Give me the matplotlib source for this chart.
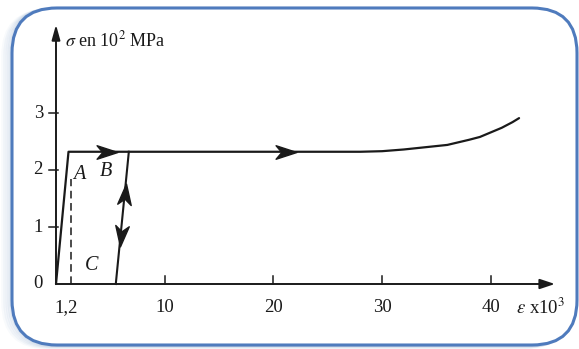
import matplotlib
matplotlib.use("Agg")
import matplotlib.pyplot as plt
import numpy as np
from matplotlib.patches import FancyBboxPatch
from matplotlib.markers import MarkerStyle
from matplotlib.path import Path
from matplotlib.transforms import Affine2D

# stress-strain curve (strain x1e3, stress in 1e2 MPa)
eps = [0, 1.15, 28, 30, 32, 34, 36, 38, 39, 40, 41, 42, 42.6]
sig = [0, 2.32, 2.32, 2.33, 2.36, 2.40, 2.44, 2.53, 2.58, 2.66, 2.74, 2.84, 2.91]

# unloading line B -> C
unload_eps = [6.7, 5.5]
unload_sig = [2.32, 0]

# dashed line at A
dash_eps = [1.4, 1.4]
dash_sig = [0, 1.85]

xticks = [10, 20, 30, 40]
yticks = [1, 2, 3]
arrow_eps = [4.7, 21.2]
double_arrow_sig = [1.58, 0.84]

W, H = 579, 349
fig = plt.figure(figsize=(W / 100, H / 100), dpi=100)

# background frame in pixel coordinates
fr = fig.add_axes([0, 0, 1, 1], zorder=0)
fr.set_xlim(0, W)
fr.set_ylim(H, 0)
fr.axis("off")
for i, a in enumerate([0.05, 0.07, 0.09, 0.12, 0.16]):
    off = 9 - i * 2
    sh = FancyBboxPatch((12 - off, 8 + off * 0.3), 565, 337, boxstyle="round,pad=0,rounding_size=45",
                        fc="none", ec="#7f9fc8", lw=2.5, alpha=a)
    fr.add_patch(sh)
box = FancyBboxPatch((12, 8), 565, 337, boxstyle="round,pad=0,rounding_size=45",
                     fc="white", ec="#4f7bbd", lw=2.2)
fr.add_patch(box)

ax = fig.add_axes([0, 0, 1, 1], zorder=1)
ax.patch.set_alpha(0)
ax.set_xlim(-56 / 10.87, (W - 56) / 10.87)
ax.set_ylim(-(H - 284) / 57, 284 / 57)
ax.axis("off")

serif = "Liberation Serif"
k = "#1a1a1a"

# axes with arrows
ax.annotate("", xy=(45.9, 0), xytext=(0, 0),
            arrowprops=dict(arrowstyle="-|>,head_length=0.9,head_width=0.3", color=k, lw=1.4, shrinkA=0, shrinkB=0))
ax.annotate("", xy=(0, 4.55), xytext=(0, 0),
            arrowprops=dict(arrowstyle="-|>,head_length=0.9,head_width=0.25", color=k, lw=1.4, shrinkA=0, shrinkB=0))

for t in xticks:
    ax.plot([t, t], [0, 0.14], color=k, lw=1.1)
    ax.text(t, -0.42, str(t), ha="center", va="center", fontsize=13.5, family=serif, color=k)
for t in yticks:
    ax.plot([-0.6, 0.2], [t, t], color=k, lw=1.1)
    ax.text(-1.2, t, str(t), ha="right", va="center", fontsize=13.5, family=serif, color=k)
ax.text(-1.2, 0, "0", ha="right", va="center", fontsize=13.5, family=serif, color=k)
ax.text(0.9, -0.42, "1,2", ha="center", va="center", fontsize=13.5, family=serif, color=k)

# curves
ax.plot(eps, sig, color=k, lw=1.6, solid_capstyle="round")
ax.plot(unload_eps, unload_sig, color=k, lw=1.5)
ax.plot(dash_eps, dash_sig, color=k, lw=1.1, ls=(0, (5, 3)))

# stealth arrowheads
stealth = Path([(-1, -0.65), (1, 0), (-1, 0.65), (-0.45, 0), (-1, -0.65)],
               [Path.MOVETO, Path.LINETO, Path.LINETO, Path.LINETO, Path.CLOSEPOLY])
for xa in arrow_eps:
    ax.plot(xa, 2.32, marker=MarkerStyle(stealth), ms=15, color=k, mec=k)
ang = np.degrees(np.arctan2((unload_sig[0] - unload_sig[1]) * 57, (unload_eps[0] - unload_eps[1]) * 10.87))
for s, turn in zip(double_arrow_sig, [0, 180]):
    f = (s - unload_sig[1]) / unload_sig[0]
    ax.plot(unload_eps[1] + f * (unload_eps[0] - unload_eps[1]), s,
            marker=MarkerStyle(stealth, transform=Affine2D().rotate_deg(ang + turn)), ms=15, color=k, mec=k)

# labels
ax.text(2.1, 1.92, "A", fontsize=14.5, family=serif, style="italic", ha="center", va="center", color=k)
ax.text(4.6, 1.97, "B", fontsize=14.5, family=serif, style="italic", ha="center", va="center", color=k)
ax.text(3.3, 0.33, "C", fontsize=14.5, family=serif, style="italic", ha="center", va="center", color=k)

ax.text(0.8, 4.27, r"$\sigma$ en 10$^{2}$ MPa", fontsize=13, family=serif, ha="left", va="center", color=k,
        math_fontfamily="stix")
ax.text(42.3, -0.42, r"$\varepsilon$ x10$^{3}$", fontsize=13.5, family=serif, ha="left", va="center", color=k,
        math_fontfamily="stix")

fig.savefig("out.png", dpi=100)
